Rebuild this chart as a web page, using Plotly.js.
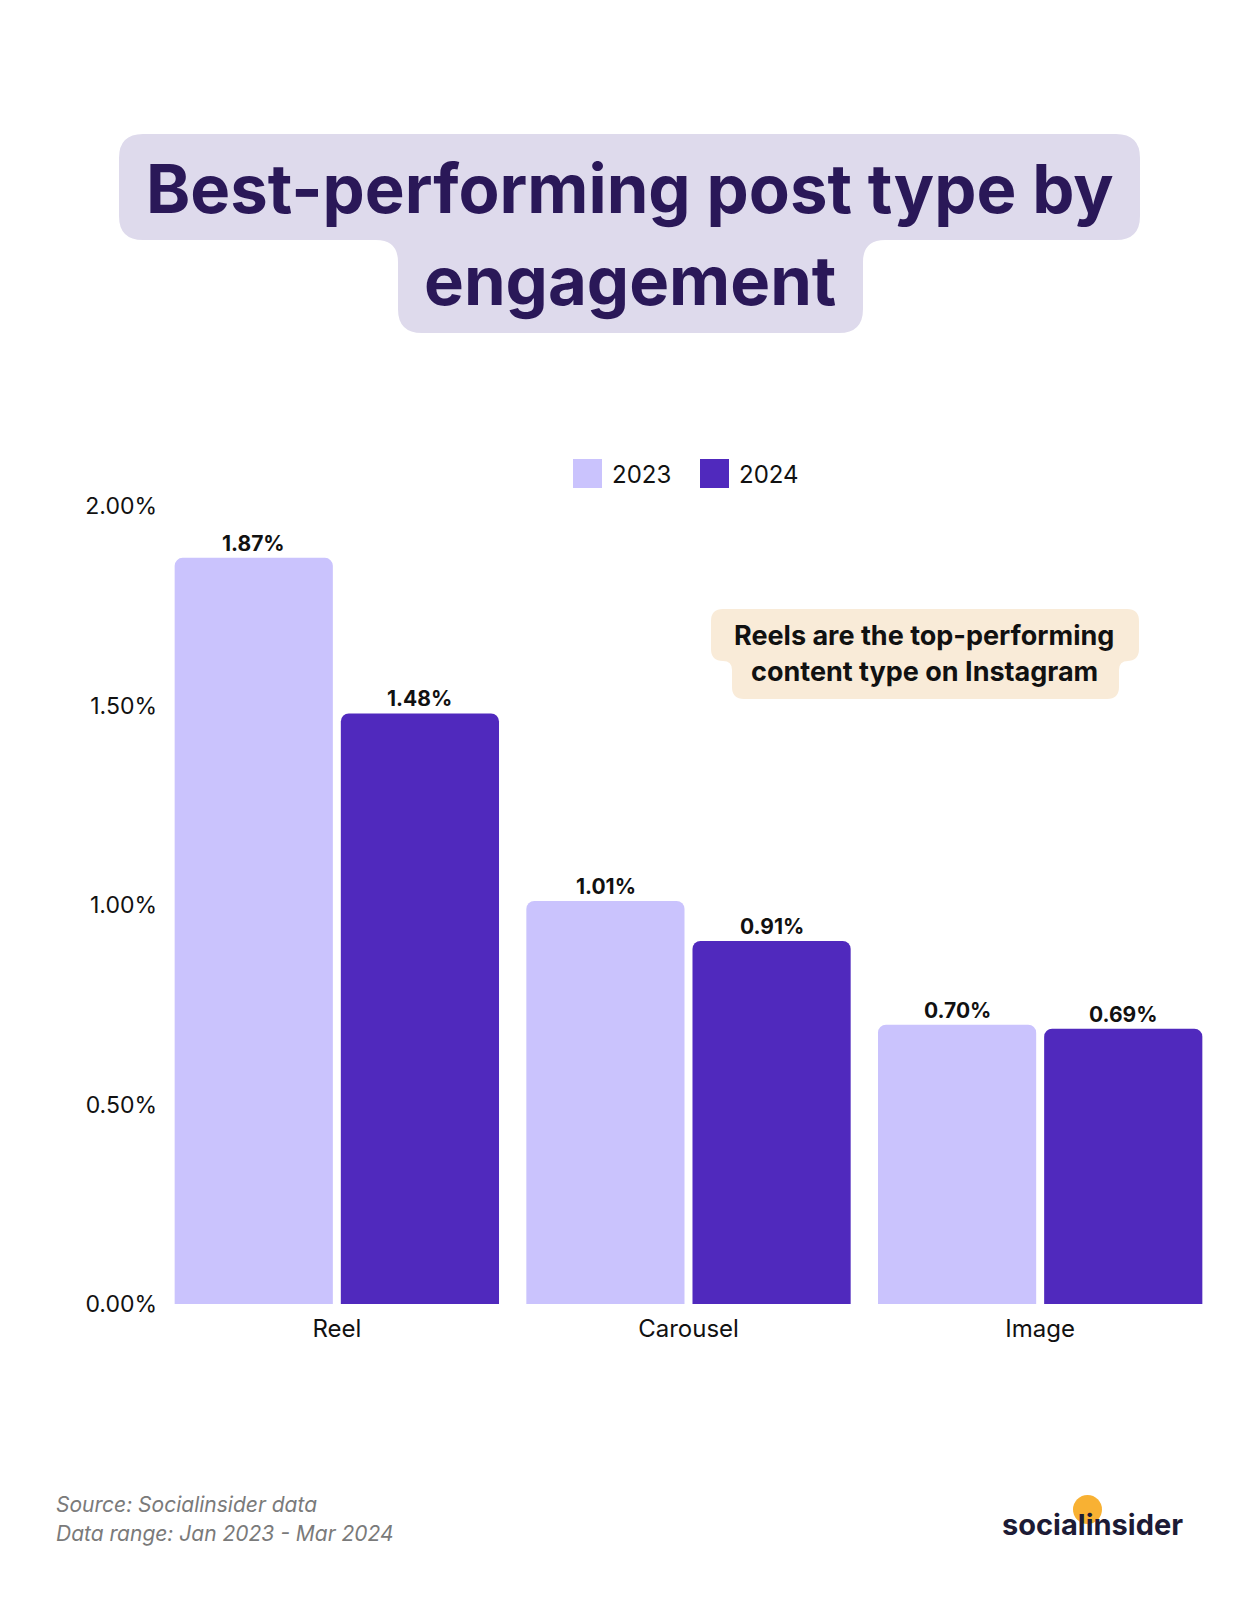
<!DOCTYPE html>
<html>
<head>
<meta charset="utf-8">
<script src="https://cdn.plot.ly/plotly-3.0.1.min.js"></script>
<style>
  body { margin: 0; background: #fff; }
  #chart { width: 1260px; height: 1600px; }
</style>
</head>
<body>
<div id="chart"></div>
<script>
// Best-performing post type by engagement

const categories = ['Reel', 'Carousel', 'Image'];
const years = ['2023', '2024'];
const values2023 = [1.87, 1.01, 0.70];
const values2024 = [1.48, 0.91, 0.69];
const yTicks = [0, 0.5, 1, 1.5, 2];

const FONT = 'Inter, "Noto Sans", sans-serif';
const C2023 = '#cac3fd';
const C2024 = '#5029bd';

// plot area in page pixels
const L = 161, R = 1216, T = 506, B = 1304;
const W = R - L, H = B - T;
const px = x => (x - L) / W;
const py = y => (B - y) / H;

// two-tier rounded box (wide top line, narrower bottom line), page pixels -> paper path
function tierPath(x1, x2, y1, ym, x3, x4, y2, r, c) {
  const P = (x, y) => px(x).toFixed(5) + ',' + py(y).toFixed(5);
  return 'M' + P(x1 + r, y1) +
    ' L' + P(x2 - r, y1) + ' Q' + P(x2, y1) + ' ' + P(x2, y1 + r) +
    ' L' + P(x2, ym - r) + ' Q' + P(x2, ym) + ' ' + P(x2 - r, ym) +
    ' L' + P(x4 + c, ym) + ' Q' + P(x4, ym) + ' ' + P(x4, ym + c) +
    ' L' + P(x4, y2 - r) + ' Q' + P(x4, y2) + ' ' + P(x4 - r, y2) +
    ' L' + P(x3 + r, y2) + ' Q' + P(x3, y2) + ' ' + P(x3, y2 - r) +
    ' L' + P(x3, ym + c) + ' Q' + P(x3, ym) + ' ' + P(x3 - c, ym) +
    ' L' + P(x1 + r, ym) + ' Q' + P(x1, ym) + ' ' + P(x1, ym - r) +
    ' L' + P(x1, y1 + r) + ' Q' + P(x1, y1) + ' ' + P(x1 + r, y1) + ' Z';
}

const traces = [
  {
    type: 'bar', name: years[0], x: categories, y: values2023,
    marker: {color: C2023, line: {width: 0}},
    hoverinfo: 'skip', showlegend: false
  },
  {
    type: 'bar', name: years[1], x: categories, y: values2024,
    marker: {color: C2024, line: {width: 0}},
    hoverinfo: 'skip', showlegend: false
  }
];

const annotations = [];
// value labels above bars
[values2023, values2024].forEach((vals, s) => {
  vals.forEach((v, i) => {
    annotations.push({
      x: categories[i], y: v, xref: 'x', yref: 'y',
      xshift: s === 0 ? -83 : 83, yshift: 0,
      yanchor: 'bottom', showarrow: false,
      text: v.toFixed(2) + '%',
      font: {family: FONT, size: 21, color: '#111', weight: 700}
    });
  });
});

// title
annotations.push({
  xref: 'paper', yref: 'paper', x: px(630), y: py(189),
  xanchor: 'center', yanchor: 'middle', showarrow: false,
  text: 'Best-performing post type by',
  font: {family: FONT, size: 67, color: '#2a1858', weight: 700}
});
annotations.push({
  xref: 'paper', yref: 'paper', x: px(630), y: py(280),
  xanchor: 'center', yanchor: 'middle', showarrow: false,
  text: 'engagement',
  font: {family: FONT, size: 67, color: '#2a1858', weight: 700}
});

// callout
annotations.push({
  xref: 'paper', yref: 'paper', x: px(924), y: py(635),
  xanchor: 'center', yanchor: 'middle', showarrow: false,
  text: 'Reels are the top-performing',
  font: {family: FONT, size: 27, color: '#111', weight: 700}
});
annotations.push({
  xref: 'paper', yref: 'paper', x: px(924), y: py(671),
  xanchor: 'center', yanchor: 'middle', showarrow: false,
  text: 'content type on Instagram',
  font: {family: FONT, size: 27, color: '#111', weight: 700}
});

// legend text
annotations.push({
  xref: 'paper', yref: 'paper', x: px(610), y: py(474),
  xanchor: 'left', yanchor: 'middle', showarrow: false,
  text: years[0], font: {family: FONT, size: 24, color: '#111'}
});
annotations.push({
  xref: 'paper', yref: 'paper', x: px(737), y: py(474),
  xanchor: 'left', yanchor: 'middle', showarrow: false,
  text: years[1], font: {family: FONT, size: 24, color: '#111'}
});

// footer
annotations.push({
  xref: 'paper', yref: 'paper', x: px(54), y: py(1504),
  xanchor: 'left', yanchor: 'middle', showarrow: false,
  text: '<i>Source: Socialinsider data</i>',
  font: {family: FONT, size: 21, color: '#7a7a7a'}
});
annotations.push({
  xref: 'paper', yref: 'paper', x: px(54), y: py(1533),
  xanchor: 'left', yanchor: 'middle', showarrow: false,
  text: '<i>Data range: Jan 2023 - Mar 2024</i>',
  font: {family: FONT, size: 21, color: '#7a7a7a'}
});

// logo
annotations.push({
  xref: 'paper', yref: 'paper', x: px(1092), y: py(1524),
  xanchor: 'center', yanchor: 'middle', showarrow: false,
  text: 'socialinsider',
  font: {family: FONT, size: 29, color: '#1d1b35', weight: 700}
});

const shapes = [
  {type: 'path', xref: 'paper', yref: 'paper', layer: 'below',
   path: tierPath(119, 1140, 134, 240, 398, 863, 333, 24, 22),
   fillcolor: '#dedaec', line: {width: 0}},
  {type: 'path', xref: 'paper', yref: 'paper', layer: 'below',
   path: tierPath(711, 1139, 609, 661, 732, 1119, 699, 12, 9),
   fillcolor: '#f9ebd8', line: {width: 0}},
  {type: 'rect', xref: 'paper', yref: 'paper', layer: 'above',
   x0: px(573), x1: px(602), y0: py(459), y1: py(488),
   fillcolor: C2023, line: {width: 0}},
  {type: 'rect', xref: 'paper', yref: 'paper', layer: 'above',
   x0: px(700), x1: px(729), y0: py(459), y1: py(488),
   fillcolor: C2024, line: {width: 0}},
  {type: 'circle', xref: 'paper', yref: 'paper', layer: 'below',
   x0: px(1073), x1: px(1102), y0: py(1495), y1: py(1524),
   fillcolor: '#f8b133', line: {width: 0}}
];

const layout = {
  width: 1260, height: 1600,
  margin: {l: L, r: 1260 - R, t: T, b: 1600 - B, pad: 0},
  paper_bgcolor: '#fff', plot_bgcolor: '#fff',
  barmode: 'group', bargap: 0.055, bargroupgap: 0.048,
  barcornerradius: 8,
  showlegend: false,
  font: {family: FONT, size: 22, color: '#111'},
  xaxis: {
    type: 'category', showgrid: false, zeroline: false, showline: false,
    ticks: '', tickfont: {family: FONT, size: 24, color: '#111'},
    ticklabelstandoff: 8, fixedrange: true
  },
  yaxis: {
    range: [0, 2], tickvals: yTicks,
    ticktext: yTicks.map(v => v.toFixed(2) + '%'),
    showgrid: false, zeroline: false, showline: false, ticks: '',
    tickfont: {family: FONT, size: 23, color: '#111'},
    ticklabelstandoff: 3, fixedrange: true
  },
  annotations: annotations,
  shapes: shapes
};

Plotly.newPlot('chart', traces, layout, {displayModeBar: false, staticPlot: true});
</script>
</body>
</html>
